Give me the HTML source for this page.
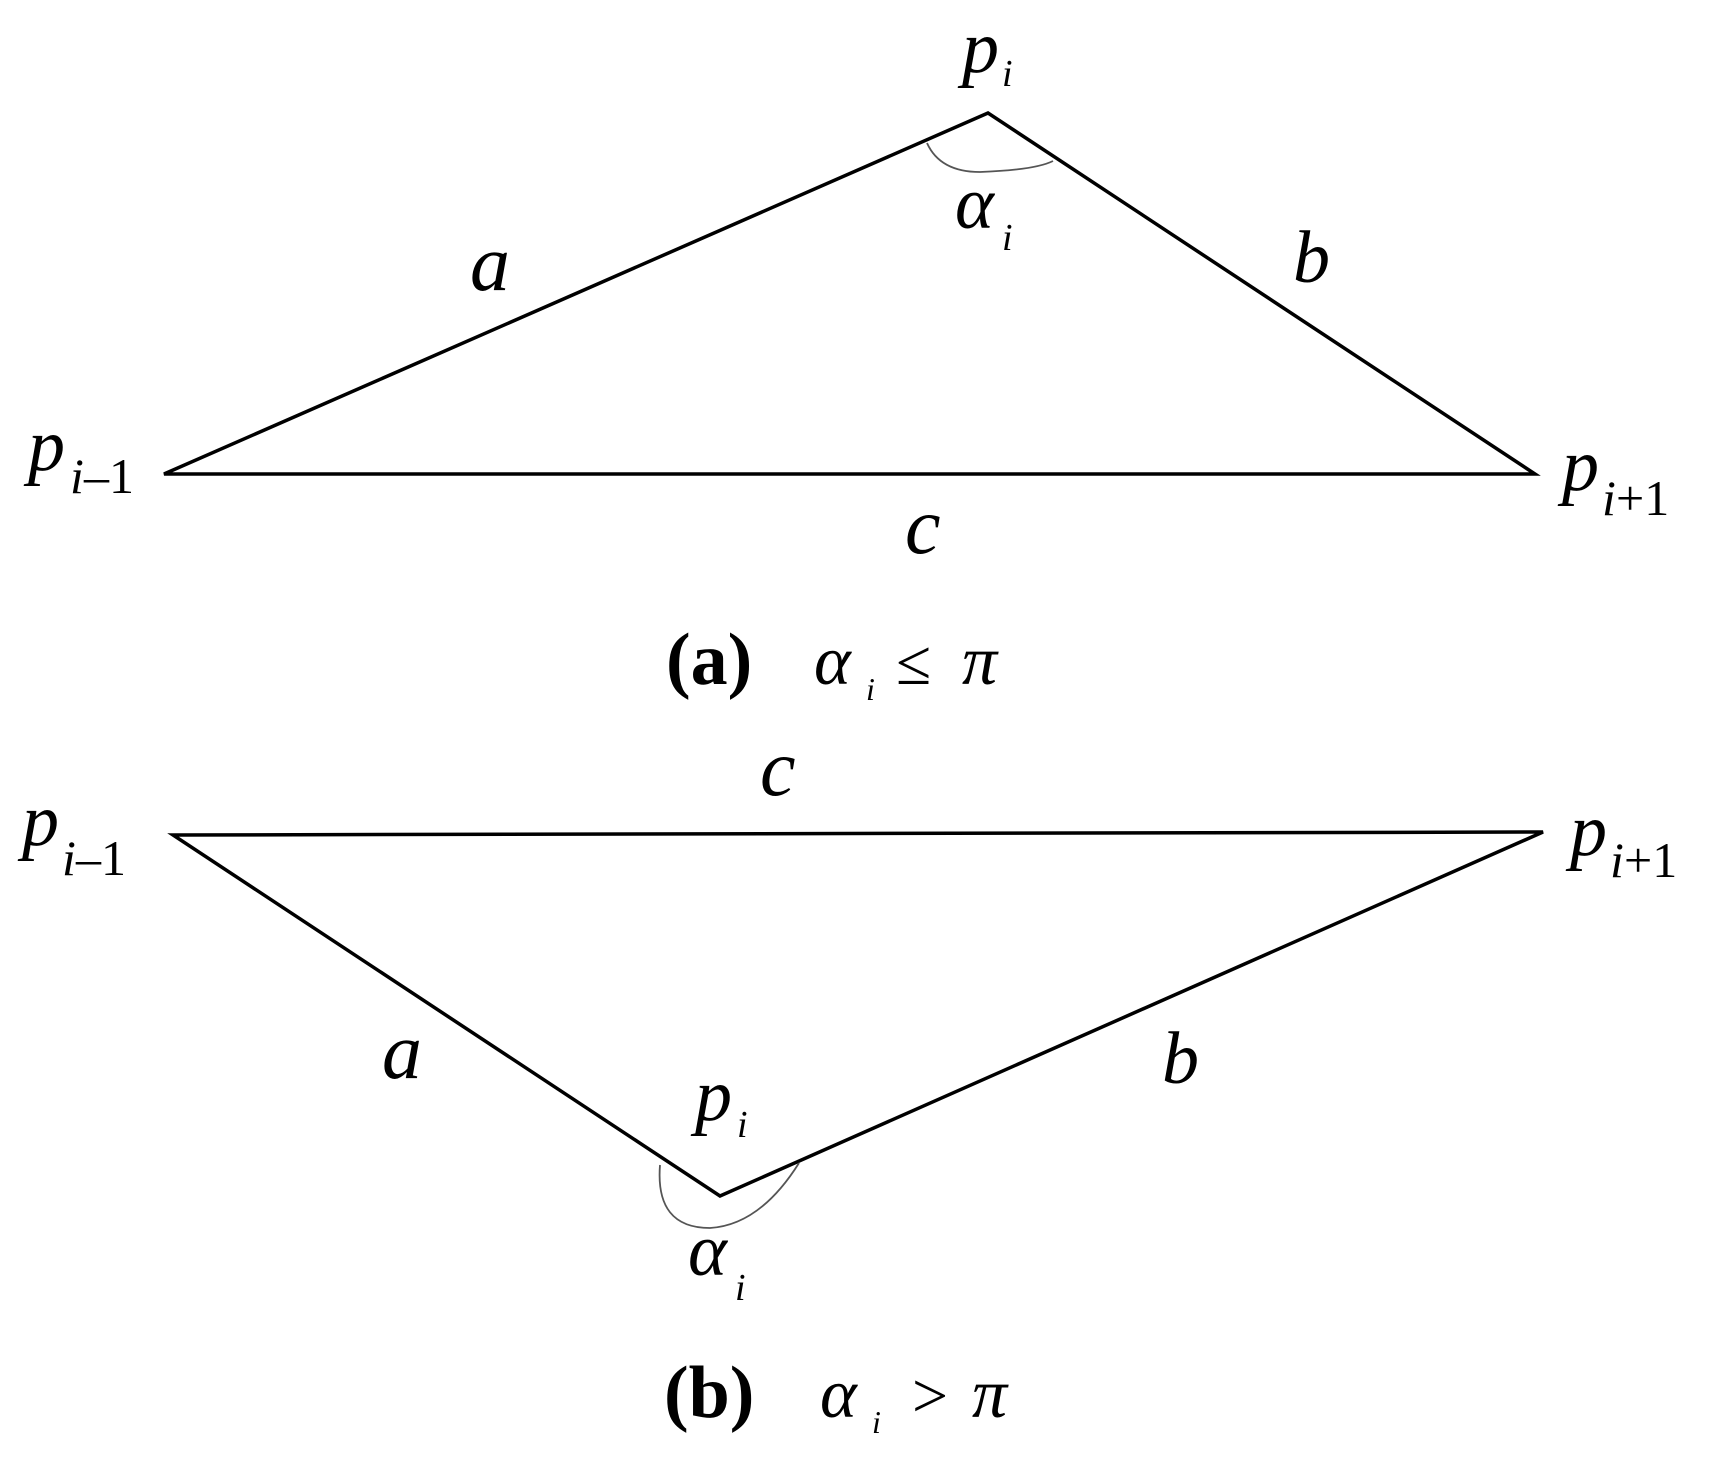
<!DOCTYPE html>
<html><head><meta charset="utf-8"><style>
html,body{margin:0;padding:0;background:#fff;}
svg{display:block;}
text{font-family:"Liberation Serif",serif;font-style:italic;fill:#000;}
.cap{font-style:normal;font-weight:bold;}
.n{font-style:normal;}
</style></head><body>
<svg width="1716" height="1475" viewBox="0 0 1716 1475" xmlns="http://www.w3.org/2000/svg">
<g fill="none" stroke="#000" stroke-width="3.5" stroke-linejoin="miter">
<polygon points="164,474 988,113 1535,474"/>
<polygon points="173,835 1543,832 720,1196"/>
</g>
<path d="M927,143 Q940,172 980,172 Q1035,170 1053,161" fill="none" stroke="#555" stroke-width="1.8"/>
<path d="M660,1165 Q655,1228 710,1228 Q760,1225 799,1163" fill="none" stroke="#555" stroke-width="1.8"/>

<g font-size="74">
<text x="962" y="72">p</text><text x="1002" y="86" font-size="38">i</text>
<text x="955" y="228">α</text><text x="1002" y="250" font-size="38">i</text>
<text x="470" y="290" font-size="80">a</text>
<text x="1293" y="282">b</text>
<text x="28" y="470">p</text><text x="70" y="493" font-size="50">i</text><text x="84" y="493" font-size="50" class="n">–1</text>
<text x="1562" y="490">p</text><text x="1602" y="515" font-size="50">i</text><text x="1616" y="515" font-size="50" class="n">+1</text>
<text x="905" y="553" font-size="80">c</text>

<text x="760" y="795" font-size="80">c</text>
<text x="22" y="845">p</text><text x="62" y="875" font-size="50">i</text><text x="76" y="875" font-size="50" class="n">–1</text>
<text x="1570" y="855">p</text><text x="1610" y="877" font-size="50">i</text><text x="1624" y="877" font-size="50" class="n">+1</text>
<text x="382" y="1078" font-size="80">a</text>
<text x="1162" y="1083">b</text>
<text x="695" y="1120">p</text><text x="737" y="1137" font-size="38">i</text>
<text x="688" y="1275">α</text><text x="735" y="1300" font-size="38">i</text>
</g>

<text class="cap" x="666" y="684" font-size="74">(a)</text>
<text x="814" y="684" font-size="70">α</text><text x="866" y="700" font-size="32">i</text>
<text x="896" y="684" font-size="64" class="n">≤</text>
<text x="962" y="684" font-size="70">π</text>

<text class="cap" x="664" y="1417" font-size="74">(b)</text>
<text x="820" y="1417" font-size="70">α</text><text x="872" y="1433" font-size="32">i</text>
<text x="912" y="1417" font-size="64" class="n">&gt;</text>
<text x="972" y="1417" font-size="70">π</text>
</svg>
</body></html>
